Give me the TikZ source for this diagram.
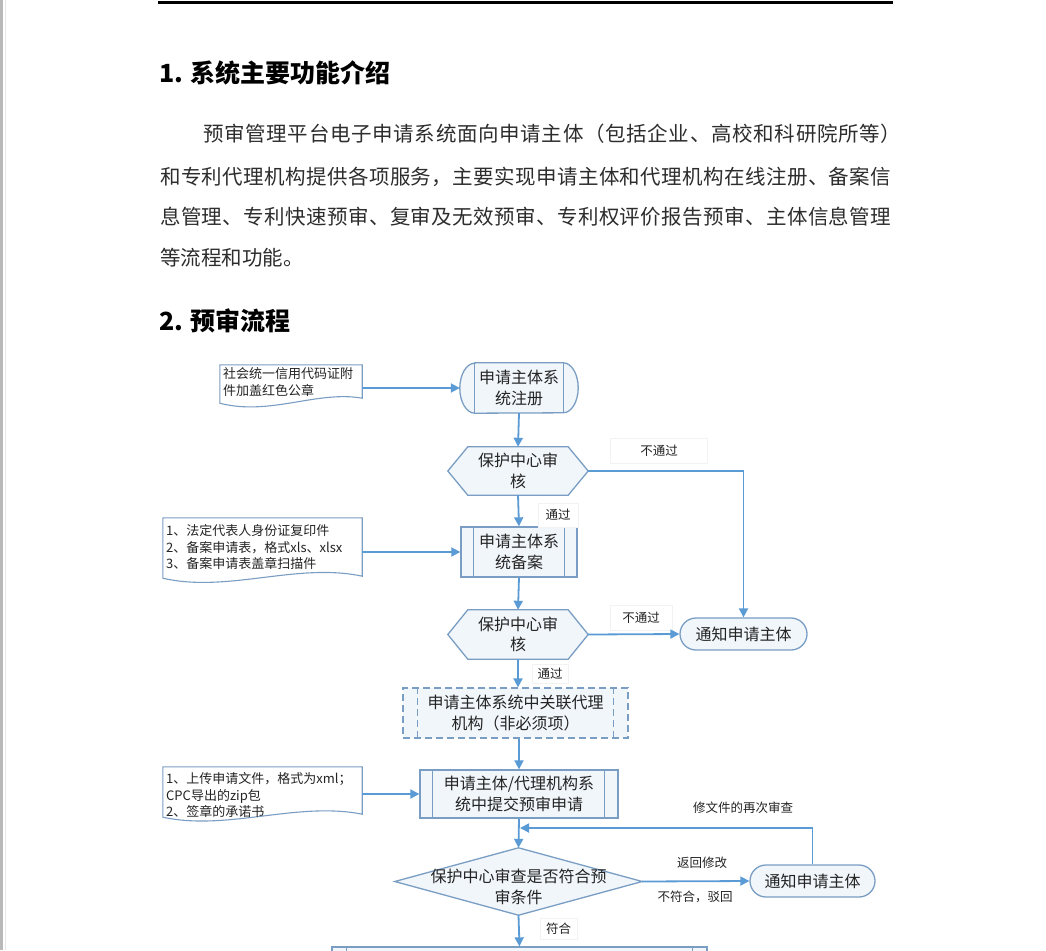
\documentclass[tikz,border=0pt]{standalone}
\usepackage{fontspec}
\setmainfont{Noto Sans CJK SC}
\usetikzlibrary{arrows.meta,calc}
\definecolor{ablue}{RGB}{91,155,213}
\definecolor{nborder}{RGB}{122,158,195}
\definecolor{nfill}{RGB}{241,246,251}
\definecolor{tcol}{RGB}{35,35,35}
\definecolor{ptext}{RGB}{45,45,45}
\def\spreadchars#1#2{#1\ifx#2\relax\else\hskip 0pt plus 1fil\relax\expandafter\spreadchars\expandafter#2\fi}
\newcommand\spreadline[2]{\hbox to #1{\spreadchars#2\relax}}
\begin{document}
\begin{tikzpicture}[x=1pt,y=-1pt,
  box/.style={draw=nborder, line width=1.3pt, fill=nfill},
  boxline/.style={draw=nborder, line width=1.3pt},
  docbox/.style={draw=nborder, line width=1.1pt, fill=white},
  ntext/.style={font=\fontsize{16}{20.5}\selectfont, text=tcol, align=center, inner sep=0pt},
  dtext/.style={font=\fontsize{13}{16.5}\selectfont, text=tcol, align=left, inner sep=0pt, anchor=north west},
  lbl/.style={font=\fontsize{12.5}{15}\selectfont, text=tcol, fill=white, draw=gray!10, inner sep=0pt},
  ltext/.style={font=\fontsize{12.5}{15}\selectfont, text=tcol, inner sep=0pt},
  arr/.style={draw=ablue, line width=1.8pt, -{Triangle[length=9pt,width=9pt]}},
  ptextst/.style={font=\fontsize{20.5}{24}\selectfont, text=ptext, inner sep=0pt, anchor=west},
  headst/.style={font=\bfseries\fontsize{25}{30}\selectfont, text=black, inner sep=0pt, anchor=west}]
\useasboundingbox (0,0) rectangle (1046,950);
\clip (0,0) rectangle (1046,950);
\fill[white] (0,0) rectangle (1046,950);
% page edge
\fill[gray!55] (0,0) rectangle (2.5,950);
\draw[gray!20, line width=0.8pt] (5.5,0) -- (5.5,950);
% top rule
\draw[line width=3pt] (158,2.5) -- (893,2.5);
% headings and paragraph
\node[headst] (hd1) at (159,73) {1. 系统主要功能介绍};
\node[ptextst] (p1) at (203,134) {\spreadline{698pt}{预审管理平台电子申请系统面向申请主体（包括企业、高校和科研院所等）}};
\node[ptextst] (p2) at (160,177) {\spreadline{731pt}{和专利代理机构提供各项服务，主要实现申请主体和代理机构在线注册、备案信}};
\node[ptextst] (p3) at (160,217) {\spreadline{731pt}{息管理、专利快速预审、复审及无效预审、专利权评价报告预审、主体信息管理}};
\node[ptextst] (p4) at (160,258) {等流程和功能。};
\node[headst] (hd2) at (159,321) {2. 预审流程};

% ---------- flowchart nodes ----------
% registration (rounded ends with inner lines)
\node[ntext, minimum width=118pt, minimum height=50pt] (reg) at (519,388) {};
\path[box] ([xshift=15pt]reg.north west) -- ([xshift=-15pt]reg.north east)
  arc[start angle=90, end angle=-90, x radius=15pt, y radius=25pt]
  -- ([xshift=15pt]reg.south west)
  arc[start angle=270, end angle=90, x radius=15pt, y radius=25pt] -- cycle;
\draw[boxline] ([xshift=15pt]reg.north west) -- ([xshift=15pt]reg.south west);
\draw[boxline] ([xshift=-15pt]reg.north east) -- ([xshift=-15pt]reg.south east);
\node[ntext] (regt) at (reg.center) {申请主体系\\统注册};

% hexagon 1
\node[ntext, minimum width=140pt, minimum height=48pt] (h1) at (518,471) {};
\path[box] (h1.west) -- ([xshift=20pt]h1.north west) -- ([xshift=-20pt]h1.north east)
  -- (h1.east) -- ([xshift=-20pt]h1.south east) -- ([xshift=20pt]h1.south west) -- cycle;
\node[ntext] (h1t) at (h1.center) {保护中心审\\核};

% filing process
\node[ntext, box, minimum width=116pt, minimum height=50pt] (bei) at (519,552) {申请主体系\\统备案};
\draw[boxline] ([xshift=13pt]bei.north west) -- ([xshift=13pt]bei.south west);
\draw[boxline] ([xshift=-13pt]bei.north east) -- ([xshift=-13pt]bei.south east);

% hexagon 2
\node[ntext, minimum width=140pt, minimum height=49pt] (h2) at (518,634.5) {};
\path[box] (h2.west) -- ([xshift=20pt]h2.north west) -- ([xshift=-20pt]h2.north east)
  -- (h2.east) -- ([xshift=-20pt]h2.south east) -- ([xshift=20pt]h2.south west) -- cycle;
\node[ntext] (h2t) at (h2.center) {保护中心审\\核};

% notify 1
\node[ntext, box, rounded corners=16pt, minimum width=127pt, minimum height=32pt] (n1) at (743.5,634) {通知申请主体};

% associate (dashed)
\node[ntext, box, dashed, dash pattern=on 7pt off 4pt, minimum width=225pt, minimum height=50pt] (assoc) at (515.5,713) {申请主体系统中关联代理\\机构（非必须项）};
\draw[boxline, dash pattern=on 7pt off 4pt] ([xshift=15pt]assoc.north west) -- ([xshift=15pt]assoc.south west);
\draw[boxline, dash pattern=on 7pt off 4pt] ([xshift=-15pt]assoc.north east) -- ([xshift=-15pt]assoc.south east);

% submit
\node[ntext, box, minimum width=198pt, minimum height=48pt] (sub) at (519,794) {申请主体/代理机构系\\统中提交预审申请};
\draw[boxline] ([xshift=13pt]sub.north west) -- ([xshift=13pt]sub.south west);
\draw[boxline] ([xshift=-14pt]sub.north east) -- ([xshift=-14pt]sub.south east);

% decision diamond
\node[ntext, minimum width=247pt, minimum height=67pt] (dia) at (518.5,881.5) {};
\path[box] (dia.north) -- (dia.east) -- (dia.south) -- (dia.west) -- cycle;
\node[ntext] (diat) at (518.5,887) {保护中心审查是否符合预\\审条件};

% notify 2
\node[ntext, box, rounded corners=16pt, minimum width=125pt, minimum height=32pt] (n2) at (812.5,881) {通知申请主体};

% last (cut off)
\node[ntext, box, minimum width=375pt, minimum height=56pt] (last) at (519.5,975) {};
\draw[boxline] ([xshift=15pt]last.north west) -- ([xshift=15pt]last.south west);
\draw[boxline] ([xshift=-15pt]last.north east) -- ([xshift=-15pt]last.south east);

% documents
\node[minimum width=142pt, minimum height=38pt, inner sep=0pt] (doc1) at (291,384) {};
\path[docbox] (doc1.north west) -- (doc1.north east) -- ($(doc1.south east)+(0,-5)$)
  .. controls ($(doc1.south east)+(-45,-13)$) and ($(doc1.south west)+(50,13)$) .. (doc1.south west) -- cycle;
\node[dtext, font=\fontsize{13}{17}\selectfont] (doc1t) at (223,367) {社会统一信用代码证附\\件加盖红色公章};

\node[minimum width=199pt, minimum height=60pt, inner sep=0pt] (doc2) at (262.5,548) {};
\path[docbox] (doc2.north west) -- (doc2.north east) -- ($(doc2.south east)+(0,-2)$)
  .. controls ($(doc2.south east)+(-65,-16)$) and ($(doc2.south west)+(65,15)$) .. (doc2.south west) -- cycle;
\node[dtext] (doc2t) at (166,524.5) {1、法定代表人身份证复印件\\2、备案申请表，格式xls、xlsx\\3、备案申请表盖章扫描件};

\node[minimum width=199pt, minimum height=50pt, inner sep=0pt] (doc3) at (262.5,792) {};
\path[docbox] (doc3.north west) -- (doc3.north east) -- ($(doc3.south east)+(0,-3)$)
  .. controls ($(doc3.south east)+(-65,-16)$) and ($(doc3.south west)+(65,14)$) .. (doc3.south west) -- cycle;
\node[dtext] (doc3t) at (166,772.5) {1、上传申请文件，格式为xml；\\CPC导出的zip包\\2、签章的承诺书};

% labels
\node[lbl, minimum width=97pt, minimum height=25pt] (l1) at (659,451) {不通过};
\node[lbl, minimum width=40pt, minimum height=24pt] (l2) at (558,515) {通过};
\node[lbl, minimum width=62pt, minimum height=25pt] (l3) at (641,618) {不通过};
\node[lbl, minimum width=36pt, minimum height=19pt] (l4) at (550,674) {通过};
\node[lbl, minimum width=37pt, minimum height=21pt] (l5) at (558.5,928.5) {符合};
\node[ltext] (l6) at (702,863) {返回修改};
\node[ltext] (l7) at (695,897) {不符合，驳回};
\node[ltext] (l8) at (743,808) {修文件的再次审查};

% ---------- connectors ----------
\coordinate (fb) at (520,828);
\draw[arr] (doc1.east |- reg.west) -- (reg.west);
\draw[arr] (reg.south) -- (h1.north);
\draw[arr] (h1.south) -- (bei.north);
\draw[arr] (doc2.east |- bei.west) -- (bei.west);
\draw[arr] (bei.south) -- (h2.north);
\draw[arr] (h1.east) -| (n1.north);
\draw[arr] (h2.east) -- (n1.west);
\draw[arr] (h2.south) -- (h2.south |- assoc.north);
\draw[arr] (assoc.south -| sub.north) -- (sub.north);
\draw[arr] (doc3.east |- sub.west) -- (sub.west);
\draw[arr] (sub.south) -- (dia.north);
\draw[arr] (dia.east) -- (n2.west);
\draw[arr] (n2.north) |- (fb);
\draw[arr] (dia.south) -- (last.north);
\end{tikzpicture}
\end{document}
